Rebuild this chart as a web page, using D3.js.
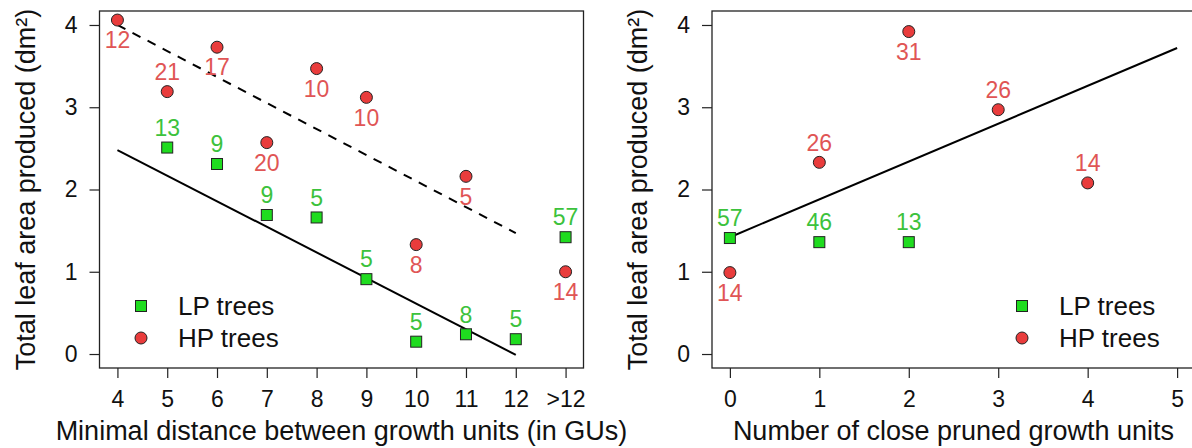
<!DOCTYPE html>
<html>
<head>
<meta charset="utf-8">
<script src="https://cdn.jsdelivr.net/npm/d3@7"></script>
<style>
  body { margin: 0; background: #fff; }
  svg text { font-family: "Liberation Sans", Arial, sans-serif; }
</style>
</head>
<body>
<svg id="chart" width="1192" height="448"></svg>
<script>
// left panel: minimal distance between GUs
var distTicks = [4, 5, 6, 7, 8, 9, 10, 11, 12, 13];
var distTickLabels = ["4", "5", "6", "7", "8", "9", "10", "11", "12", ">12"];
var distHpX = [4, 5, 6, 7, 8, 9, 10, 11, 13];
var distHpY = [4.06, 3.19, 3.73, 2.57, 3.47, 3.12, 1.33, 2.16, 1.00];
var distHpN = ["12", "21", "17", "20", "10", "10", "8", "5", "14"];
var distHpPos = ["below", "above", "below", "below", "below", "below", "below", "below", "below"];
var distLpX = [5, 6, 7, 8, 9, 10, 11, 12, 13];
var distLpY = [2.51, 2.31, 1.69, 1.66, 0.91, 0.15, 0.24, 0.18, 1.42];
var distLpN = ["13", "9", "9", "5", "5", "5", "8", "5", "57"];
var distLpFit = [[4, 2.48], [12, -0.01]];
var distHpFit = [[4, 4.00], [12, 1.47]];

// right panel: number of close pruned GUs
var prunedTicks = [0, 1, 2, 3, 4, 5];
var prunedHpX = [0, 1, 2, 3, 4];
var prunedHpY = [0.99, 2.33, 3.92, 2.97, 2.08];
var prunedHpN = ["14", "26", "31", "26", "14"];
var prunedHpPos = ["below", "above", "below", "above", "above"];
var prunedLpX = [0, 1, 2];
var prunedLpY = [1.41, 1.36, 1.36];
var prunedLpN = ["57", "46", "13"];
var prunedFit = [[0, 1.42], [5, 3.72]];

var yTicks = [0, 1, 2, 3, 4];
var legendLabels = ["LP trees", "HP trees"];

var svg = d3.select("#chart");
var plotTop = 11, plotBottom = 368;
var y = d3.scaleLinear().domain([-0.17, 4.17]).range([plotBottom, plotTop]);

var greenFill = "#1fdc1f", redFill = "#e93c3c";
var greenText = "#3cc23c", redText = "#e05555";

function panel(opts) {
  var x = d3.scaleLinear().domain(opts.xDomain).range(opts.xRange);
  var g = svg.append("g");

  // frame
  g.append("rect")
    .attr("x", opts.xRange[0]).attr("y", plotTop)
    .attr("width", opts.xRange[1] - opts.xRange[0]).attr("height", plotBottom - plotTop)
    .attr("fill", "none").attr("stroke", "#222").attr("stroke-width", 1.3);

  var xa = g.append("g").attr("transform", "translate(0," + plotBottom + ")")
    .call(d3.axisBottom(x).tickValues(opts.ticks).tickSize(10).tickPadding(13)
      .tickFormat(function (d, i) { return opts.tickLabels[i]; }));
  xa.select(".domain").remove();
  xa.selectAll("line").attr("stroke", "#222").attr("stroke-width", 1.2);
  xa.selectAll("text").attr("font-size", 23).attr("fill", "#111")
    .style("font-family", "Liberation Sans, Arial, sans-serif");

  var ya = g.append("g").attr("transform", "translate(" + opts.xRange[0] + ",0)")
    .call(d3.axisLeft(y).tickValues(yTicks).tickSize(10).tickPadding(12).tickFormat(d3.format("d")));
  ya.select(".domain").remove();
  ya.selectAll("line").attr("stroke", "#222").attr("stroke-width", 1.2);
  ya.selectAll("text").attr("font-size", 23).attr("fill", "#111")
    .style("font-family", "Liberation Sans, Arial, sans-serif");

  // titles
  g.append("text")
    .attr("x", (opts.xRange[0] + opts.xRange[1]) / 2)
    .attr("y", 440).attr("text-anchor", "middle")
    .attr("font-size", 27).attr("fill", "#111").text(opts.xTitle);
  g.append("text")
    .attr("transform", "translate(" + (opts.xRange[0] - 65) + "," + ((plotTop + plotBottom) / 2) + ") rotate(-90)")
    .attr("text-anchor", "middle").attr("font-size", 27).attr("fill", "#111")
    .text("Total leaf area produced (dm²)");

  // regression lines
  var line = d3.line().x(function (d) { return x(d[0]); }).y(function (d) { return y(d[1]); });
  opts.fits.forEach(function (f) {
    g.append("path").datum(f.pts).attr("d", line)
      .attr("fill", "none").attr("stroke", "#000").attr("stroke-width", 2)
      .attr("stroke-dasharray", f.dashed ? "9,8" : null);
  });

  // LP squares
  var lp = opts.lpX.map(function (v, i) { return { x: v, y: opts.lpY[i], n: opts.lpN[i] }; });
  g.selectAll("rect.lp").data(lp).enter().append("rect").attr("class", "lp")
    .attr("x", function (d) { return x(d.x) - 5.5; })
    .attr("y", function (d) { return y(d.y) - 5.5; })
    .attr("width", 11).attr("height", 11)
    .attr("fill", greenFill).attr("stroke", "#222").attr("stroke-width", 1);
  g.selectAll("text.lpn").data(lp).enter().append("text").attr("class", "lpn")
    .attr("x", function (d) { return x(d.x); })
    .attr("y", function (d) { return y(d.y) - 20; })
    .attr("dy", "0.36em").attr("text-anchor", "middle")
    .attr("font-size", 23).attr("fill", greenText).text(function (d) { return d.n; });

  // HP circles
  var hp = opts.hpX.map(function (v, i) { return { x: v, y: opts.hpY[i], n: opts.hpN[i], pos: opts.hpPos[i] }; });
  g.selectAll("circle.hp").data(hp).enter().append("circle").attr("class", "hp")
    .attr("cx", function (d) { return x(d.x); })
    .attr("cy", function (d) { return y(d.y); })
    .attr("r", 6)
    .attr("fill", redFill).attr("stroke", "#222").attr("stroke-width", 1);
  g.selectAll("text.hpn").data(hp).enter().append("text").attr("class", "hpn")
    .attr("x", function (d) { return x(d.x); })
    .attr("y", function (d) { return y(d.y) + (d.pos === "above" ? -20 : 20); })
    .attr("dy", "0.36em").attr("text-anchor", "middle")
    .attr("font-size", 23).attr("fill", redText).text(function (d) { return d.n; });

  // legend
  var lx = opts.legendX, ly = [306, 338];
  g.append("rect").attr("x", lx - 5.5).attr("y", ly[0] - 5.5).attr("width", 11).attr("height", 11)
    .attr("fill", greenFill).attr("stroke", "#222").attr("stroke-width", 1);
  g.append("circle").attr("cx", lx).attr("cy", ly[1]).attr("r", 6)
    .attr("fill", redFill).attr("stroke", "#222").attr("stroke-width", 1);
  legendLabels.forEach(function (t, i) {
    g.append("text").attr("x", lx + 37).attr("y", ly[i]).attr("dy", "0.36em")
      .attr("font-size", 26).attr("fill", "#111").text(t);
  });
}

panel({
  xDomain: [3.64, 13.36], xRange: [99.5, 583.5],
  ticks: distTicks, tickLabels: distTickLabels,
  xTitle: "Minimal distance between growth units (in GUs)",
  hpX: distHpX, hpY: distHpY, hpN: distHpN, hpPos: distHpPos,
  lpX: distLpX, lpY: distLpY, lpN: distLpN,
  fits: [{ pts: distLpFit, dashed: false }, { pts: distHpFit, dashed: true }],
  legendX: 141
});

panel({
  xDomain: [-0.2, 5.2], xRange: [712, 1195],
  ticks: prunedTicks, tickLabels: prunedTicks.map(String),
  xTitle: "Number of close pruned growth units",
  hpX: prunedHpX, hpY: prunedHpY, hpN: prunedHpN, hpPos: prunedHpPos,
  lpX: prunedLpX, lpY: prunedLpY, lpN: prunedLpN,
  fits: [{ pts: prunedFit, dashed: false }],
  legendX: 1022
});
</script>
</body>
</html>
